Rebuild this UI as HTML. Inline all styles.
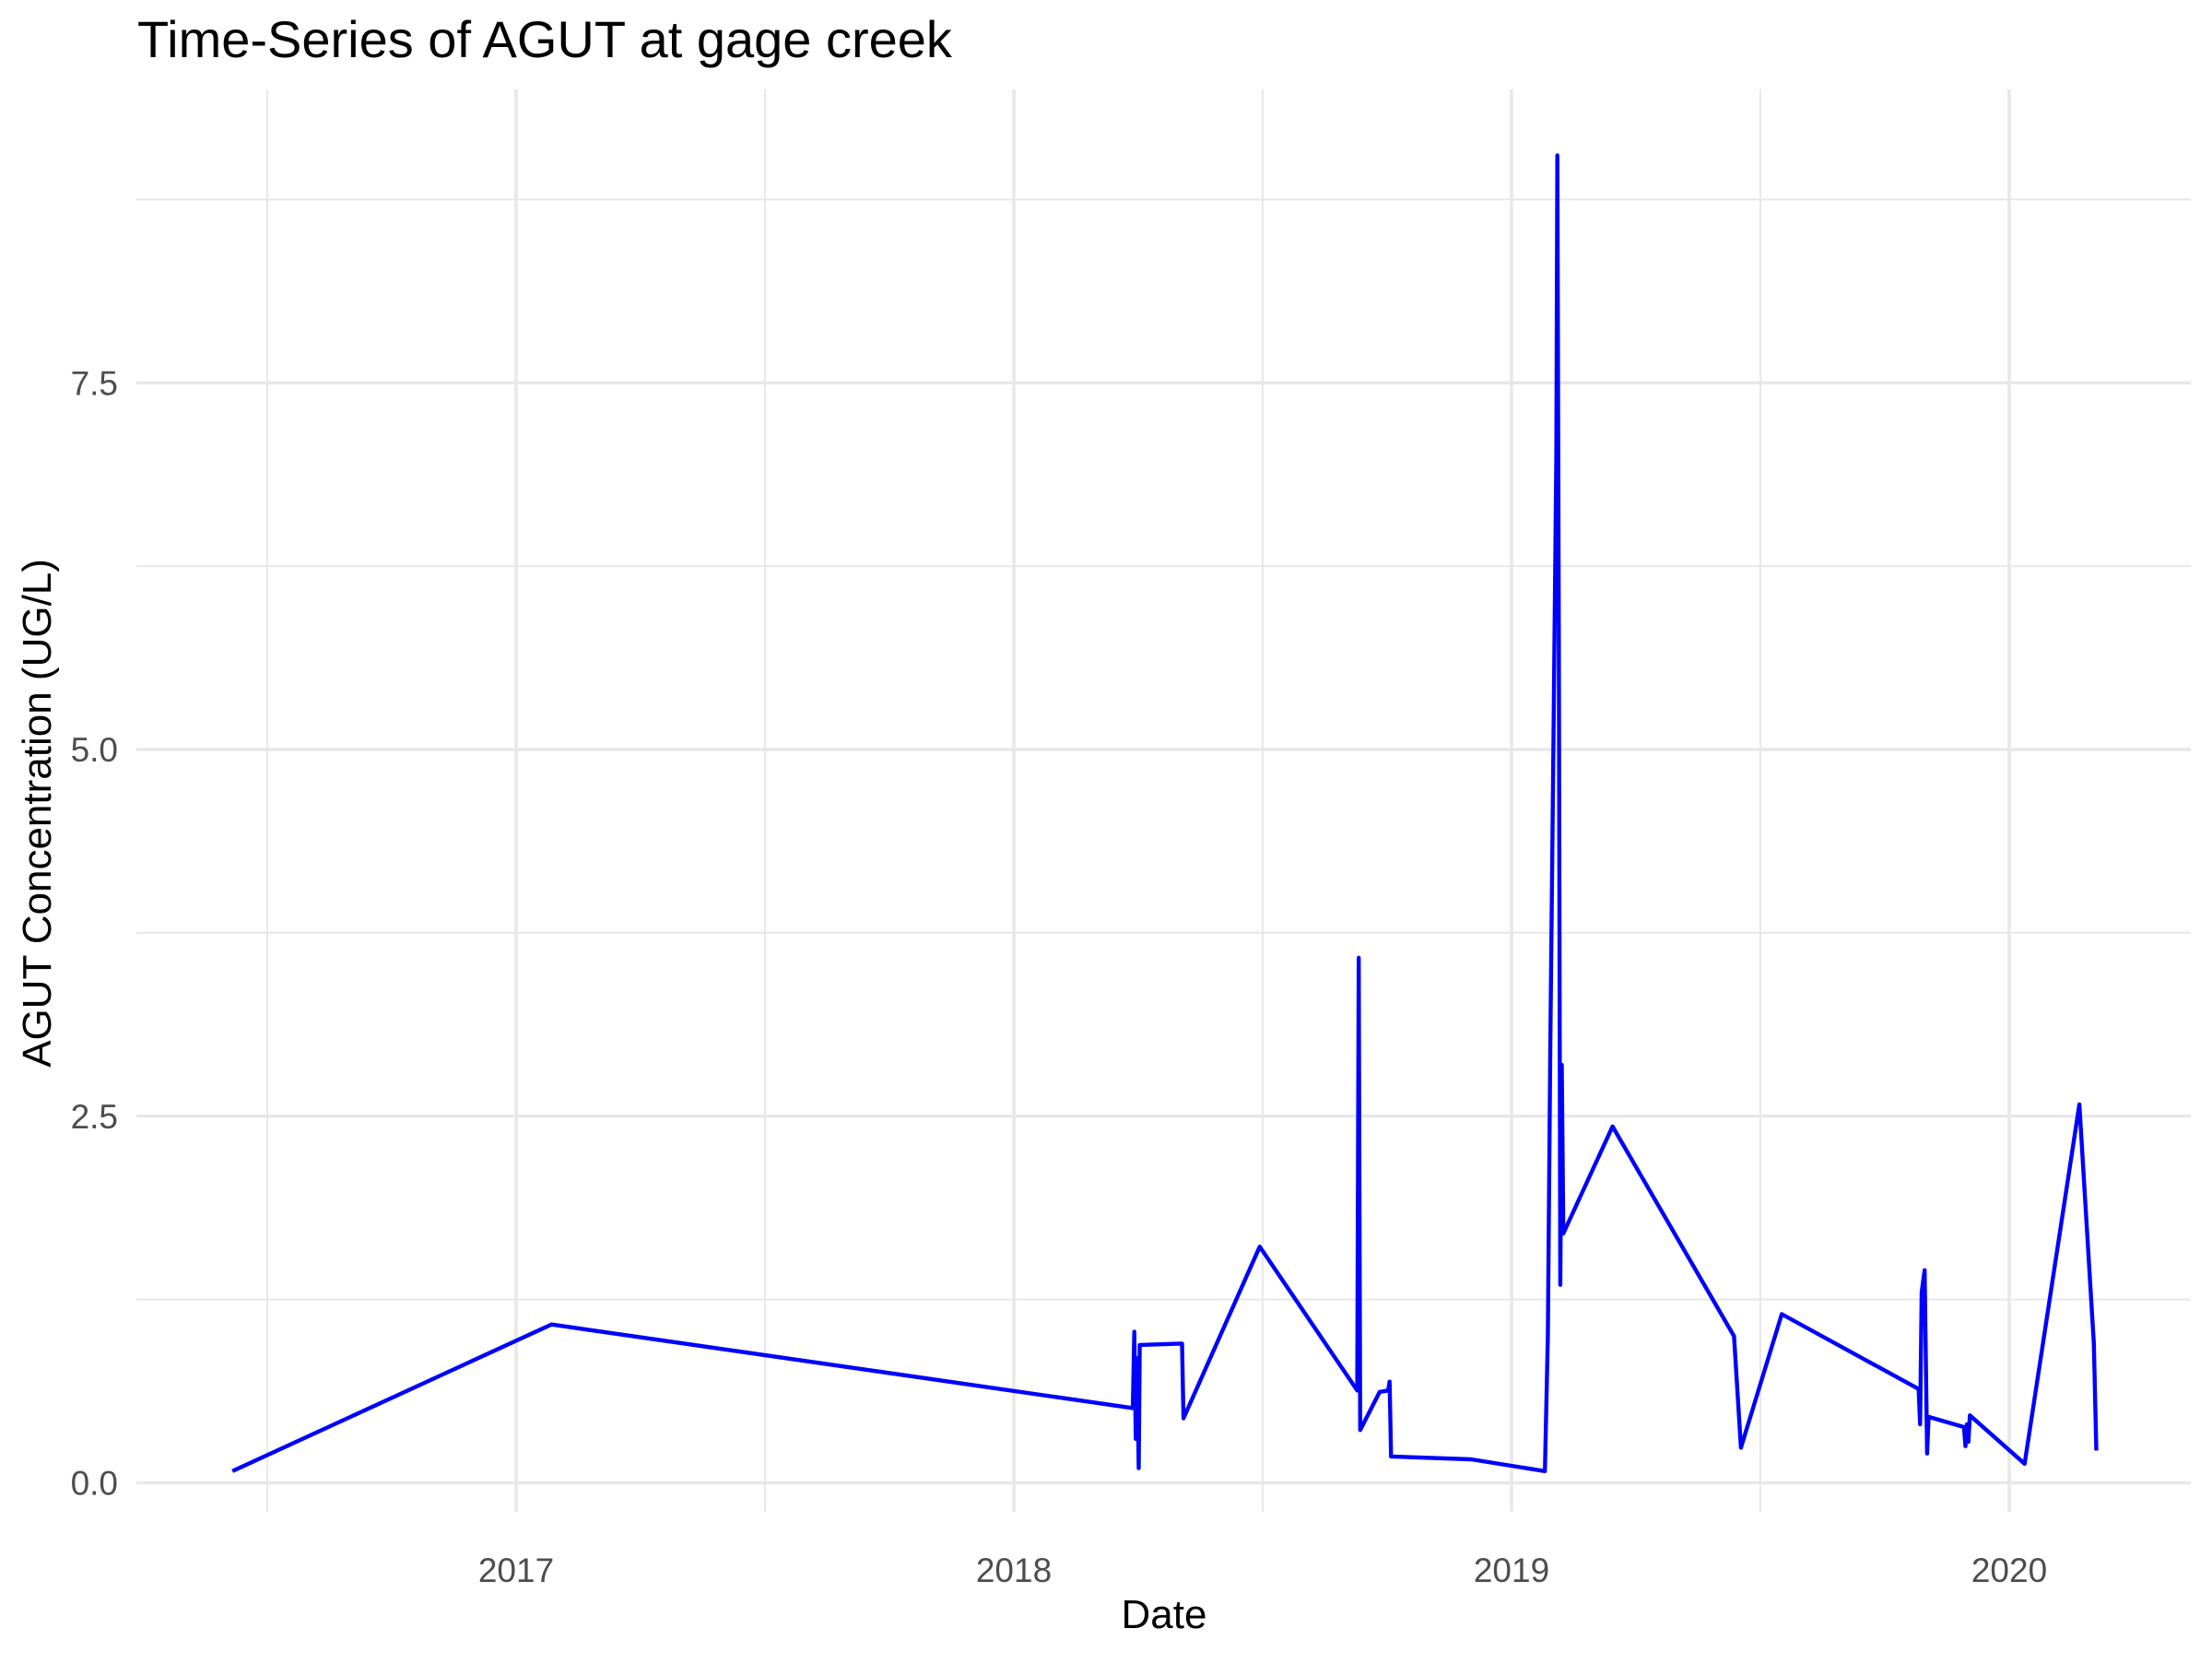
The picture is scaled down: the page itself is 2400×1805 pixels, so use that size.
<!DOCTYPE html>
<html><head><meta charset="utf-8"><style>
html,body{margin:0;padding:0;background:#fff;}
svg text{font-family:"Liberation Sans",Arial,sans-serif;}
</style></head><body>
<svg id="chart" width="2400" height="1800" viewBox="0 0 2400 1800" xmlns="http://www.w3.org/2000/svg">
<rect width="2400" height="1800" fill="#fff"/>
<text x="149" y="62" font-size="56" fill="#000">Time-Series of AGUT at gage creek</text>
<g id="grid"></g>
<g id="yticks"></g>
<g id="xticks"></g>
<path id="series" fill="none" stroke="#0000ff" stroke-width="4.4" stroke-linejoin="round"/>
<text x="1263" y="1766" font-size="44" text-anchor="middle" fill="#000">Date</text>
<text transform="translate(55,882) rotate(-90)" font-size="44" text-anchor="middle" fill="#000">AGUT Concentration (UG/L)</text>
</svg>
<script>
const dates = [2016.430,2017.071,2018.239,2018.242,2018.245,2018.248,2018.251,2018.253,2018.338,2018.341,2018.494,2018.690,2018.693,2018.696,2018.735,2018.752,2018.755,2018.758,2018.919,2019.067,2019.073,2019.078,2019.084,2019.090,2019.092,2019.095,2019.098,2019.101,2019.104,2019.203,2019.447,2019.461,2019.543,2019.818,2019.821,2019.824,2019.830,2019.835,2019.838,2019.909,2019.912,2019.915,2019.918,2019.921,2020.031,2020.141,2020.170,2020.175];
const values = [0.08,1.08,0.51,1.03,0.30,0.85,0.10,0.94,0.95,0.44,1.61,0.63,3.58,0.36,0.62,0.63,0.69,0.18,0.16,0.08,1.0,3.0,5.0,7.0,9.05,5.8,1.35,2.85,1.7,2.43,1.0,0.24,1.15,0.64,0.40,1.30,1.45,0.20,0.45,0.38,0.25,0.40,0.28,0.46,0.13,2.58,0.95,0.22];
const yTicks = [0,2.5,5,7.5];
const yTickLabels = ["0.0","2.5","5.0","7.5"];
const yMinor = [1.25,3.75,6.25,8.75];
const xTicks = [2017,2018,2019,2020];
const xTickLabels = ["2017","2018","2019","2020"];
const xMinor = [2016.5,2017.5,2018.5,2019.5];

const PL=148, PR=2377, PT=97, PB=1640;
function xOf(t){return 560 + (t-2017)*540;}
function yOf(v){return 1608.5 - v*159.1;}
const NS="http://www.w3.org/2000/svg";
const grid=document.getElementById('grid');
function line(x1,y1,x2,y2,w,name){
  const l=document.createElementNS(NS,'line');
  l.setAttribute('x1',x1);l.setAttribute('y1',y1);l.setAttribute('x2',x2);l.setAttribute('y2',y2);
  l.setAttribute('stroke','#e8e8e8');l.setAttribute('stroke-width',w);
  
  
  grid.appendChild(l);
}
yMinor.forEach(v=>line(PL,yOf(v),PR,yOf(v),2,'y-minor-gridline'));
xMinor.forEach(t=>line(xOf(t),PT,xOf(t),PB,2,'x-minor-gridline'));
yTicks.forEach(v=>line(PL,yOf(v),PR,yOf(v),3.6,'y-major-gridline'));
xTicks.forEach(t=>line(xOf(t),PT,xOf(t),PB,3.6,'x-major-gridline'));
const yt=document.getElementById('yticks');
yTicks.forEach((v,i)=>{
  const tx=document.createElementNS(NS,'text');
  tx.setAttribute('x',128);tx.setAttribute('y',yOf(v)+13);
  tx.setAttribute('text-anchor','end');tx.setAttribute('font-size','37');tx.setAttribute('fill','#4d4d4d');
  tx.textContent=yTickLabels[i];
  
  
  yt.appendChild(tx);
});
const xt=document.getElementById('xticks');
xTicks.forEach((t,i)=>{
  const tx=document.createElementNS(NS,'text');
  tx.setAttribute('x',xOf(t));tx.setAttribute('y',1716);
  tx.setAttribute('text-anchor','middle');tx.setAttribute('font-size','37');tx.setAttribute('fill','#4d4d4d');
  tx.textContent=xTickLabels[i];
  
  
  xt.appendChild(tx);
});
let d='';
dates.forEach((t,i)=>{d+=(i?'L':'M')+xOf(t).toFixed(1)+','+yOf(values[i]).toFixed(1);});
document.getElementById('series').setAttribute('d',d);
</script>
</body></html>
